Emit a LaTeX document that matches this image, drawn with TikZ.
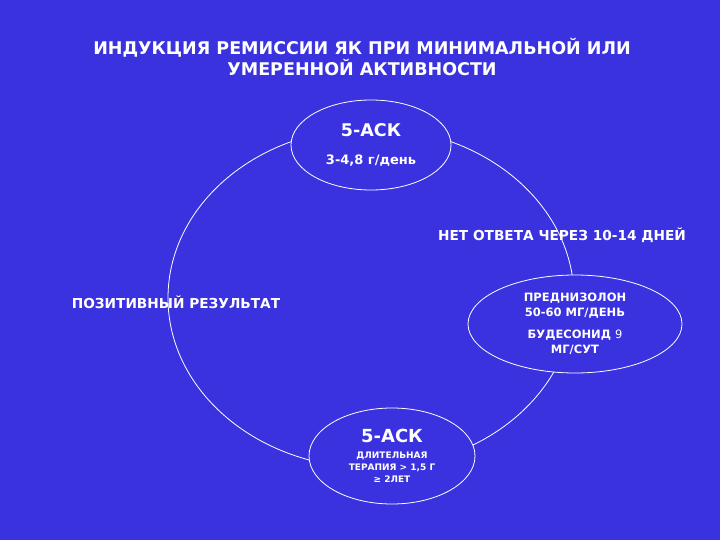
\documentclass[tikz,border=0pt]{standalone}
\usepackage{fontspec}
\setmainfont{DejaVu Sans}
\usetikzlibrary{shapes}
\definecolor{slideblue}{RGB}{58,50,222}

\begin{document}
\begin{tikzpicture}[x=1pt,y=-1pt,shape=ellipse,font=\bfseries]
\fill[slideblue] (0,0) rectangle (720,540);
\useasboundingbox (0,0) rectangle (720,540);

\node (title) [white, align=center, font=\bfseries\fontsize{17.5}{21}\selectfont] at (362,57)
{ИНДУКЦИЯ РЕМИССИИ ЯК ПРИ МИНИМАЛЬНОЙ ИЛИ\\ УМЕРЕННОЙ АКТИВНОСТИ};

% the loop
\draw[white, line width=0.8pt] (371,298) ellipse [x radius=203, y radius=170];

\node (asktop) [draw=white, line width=0.8pt, fill=slideblue, text=white, align=center,
minimum width=160, minimum height=90, inner sep=0pt,
font=\bfseries\fontsize{13}{13}\selectfont] at (371,145)
{{\fontsize{17.5}{17.5}\selectfont 5-АСК}\\[15pt] 3-4,8 г/день};
\node (steroid) [draw=white, line width=0.8pt, fill=slideblue, text=white, align=center,
minimum width=214, minimum height=98, inner sep=0pt,
font=\bfseries\fontsize{11.5}{15}\selectfont] at (575,324)
{ПРЕДНИЗОЛОН\\ 50-60 МГ/ДЕНЬ\\[7pt] БУДЕСОНИД {\mdseries 9}\\ МГ/СУТ};
\node (askbot) [draw=white, line width=0.8pt, fill=slideblue, text=white, align=center,
minimum width=166, minimum height=96, inner sep=0pt,
font=\bfseries\fontsize{9}{12}\selectfont] at (392,456)
{{\fontsize{18}{18}\selectfont 5-АСК}\\[4pt] ДЛИТЕЛЬНАЯ\\ ТЕРАПИЯ > 1,5 Г\\ ≥ 2ЛЕТ};

\node (noanswer) [white, font=\bfseries\fontsize{13.7}{13.7}\selectfont] at (562,235)
{НЕТ ОТВЕТА ЧЕРЕЗ 10-14 ДНЕЙ};
\node (positive) [white, font=\bfseries\fontsize{13.7}{13.7}\selectfont] at (176,302)
{ПОЗИТИВНЫЙ РЕЗУЛЬТАТ};
\end{tikzpicture}
\end{document}
